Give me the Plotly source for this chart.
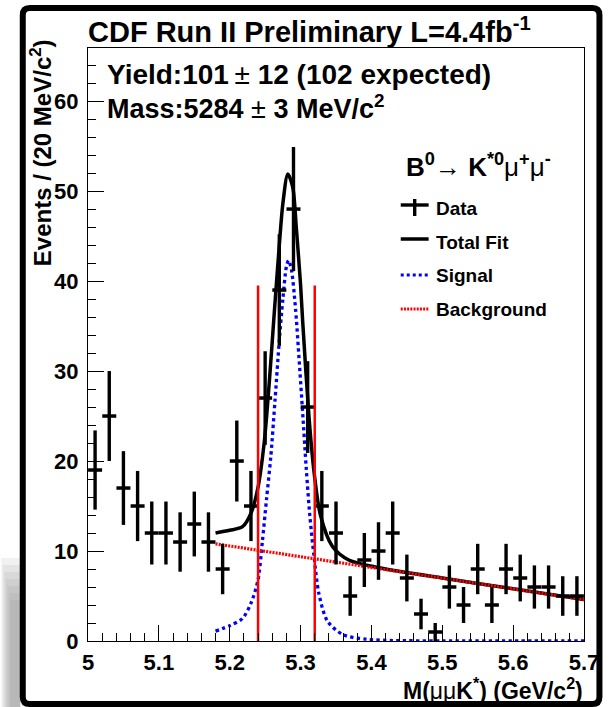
import plotly.graph_objects as go

# ---- measured spectrum: 20 MeV/c^2 bins ----
bin_centers = [5.01, 5.03, 5.05, 5.07, 5.09, 5.11, 5.13, 5.15, 5.17, 5.19,
               5.21, 5.23, 5.25, 5.27, 5.29, 5.31, 5.33, 5.35, 5.37, 5.39,
               5.41, 5.43, 5.45, 5.47, 5.49, 5.51, 5.53, 5.55, 5.57, 5.59,
               5.61, 5.63, 5.65, 5.67, 5.69]
counts = [19, 25, 17, 15, 12, 12, 11, 13, 11, 8,
          20, 15, 27, 39, 48, 26, 15, 12, 5, 9,
          10, 12, 7, 3, 1, 6, 4, 8, 4, 8,
          7, 6, 6, 5, 5]
count_err = [4.4, 5.0, 4.1, 3.9, 3.5, 3.5, 3.3, 3.6, 3.3, 2.8,
             4.5, 3.9, 5.2, 6.2, 6.9, 5.1, 3.9, 3.5, 2.2, 3.0,
             3.2, 3.5, 2.6, 1.7, 1.0, 2.4, 2.0, 2.8, 2.0, 2.8,
             2.6, 2.4, 2.4, 2.2, 2.2]

# ---- fit components ----
signal_mass = [5.180, 5.200, 5.218, 5.230, 5.240, 5.246, 5.252, 5.258, 5.264,
               5.270, 5.275, 5.280, 5.283, 5.287, 5.293, 5.298, 5.303, 5.308,
               5.313, 5.319, 5.326, 5.338, 5.360, 5.392, 5.430, 5.500, 5.600,
               5.700]
signal_curve = [1.1, 1.7, 2.5, 4.2, 6.8, 11.0, 15.8, 20.5, 26.8,
                33.4, 38.0, 41.6, 42.3, 41.3, 36.8, 31.2, 25.3, 19.2,
                14.0, 9.4, 5.2, 2.2, 0.7, 0.2, 0.05, 0.02, 0.01,
                0.0]

total_mass = [5.180, 5.200, 5.218, 5.230, 5.240, 5.249, 5.256, 5.263, 5.270,
              5.275, 5.282, 5.289, 5.294, 5.300, 5.303, 5.312, 5.319, 5.328,
              5.345, 5.368, 5.401, 5.434, 5.500, 5.600, 5.700]
total_curve = [12.0, 12.3, 12.7, 14.2, 17.1, 22.3, 28.9, 36.6, 44.0,
               48.6, 51.9, 50.4, 45.9, 39.6, 35.5, 24.8, 18.8, 14.0,
               10.5, 9.0, 8.3, 7.8, 7.0, 5.8, 4.6]

bkg_mass = [5.18, 5.70]
bkg_curve = [10.8, 4.6]

# signal window boundaries
window_edges = [5.24, 5.32]
window_top = 39.5

# ---- page geometry (pixels) ----
W, H = 611, 707
L, R, T, B = 88, 586, 48, 641


def px(x):
    return (x - L) / (R - L)


def py(y):
    return (B - y) / (B - T)


FONT = "Liberation Sans"

fig = go.Figure()

fig.add_trace(go.Scatter(
    x=total_mass, y=total_curve, mode="lines",
    line=dict(color="black", width=3.5, shape="spline", smoothing=0.8),
    hoverinfo="skip", showlegend=False))

fig.add_trace(go.Scatter(
    x=signal_mass, y=signal_curve, mode="lines",
    line=dict(color="#0000ff", width=3.3, dash="dot", shape="spline", smoothing=0.8),
    hoverinfo="skip", showlegend=False))

fig.add_trace(go.Scatter(
    x=bkg_mass, y=bkg_curve, mode="lines",
    line=dict(color="#ff0000", width=3.2, dash="2px,1.2px"),
    hoverinfo="skip", showlegend=False))

fig.add_trace(go.Scatter(
    x=bin_centers, y=counts, mode="markers",
    marker=dict(symbol="line-ew", size=10, color="black",
                line=dict(color="black", width=3.5)),
    error_y=dict(type="data", array=count_err, visible=True,
                 color="black", thickness=3.4, width=0),
    showlegend=False))

win_x, win_y = [], []
for e in window_edges:
    win_x += [e, e, None]
    win_y += [0, window_top, None]
fig.add_trace(go.Scatter(
    x=win_x, y=win_y, mode="lines",
    line=dict(color="#ff0000", width=2.5),
    hoverinfo="skip", showlegend=False))

shapes = []

# drop shadow along the lower left of the canvas frame
for k in range(7):
    shapes.append(dict(type="rect", xref="paper", yref="paper",
                       x0=px(1 + k * 1.5), x1=px(20), y0=py(707), y1=py(558 + k * 7),
                       fillcolor="#8c8c8c", opacity=0.12, line=dict(width=0),
                       layer="below"))

# canvas frame with rounded corners
x0, x1, y0, y1 = px(22.5), px(601.5), py(8), py(704)
rx, ry = 7 / (R - L), 7 / (B - T)
frame_path = (f"M{x0 + rx},{y0} L{x1 - rx},{y0} Q{x1},{y0} {x1},{y0 - ry} "
              f"L{x1},{y1 + ry} Q{x1},{y1} {x1 - rx},{y1} "
              f"L{x0 + rx},{y1} Q{x0},{y1} {x0},{y1 + ry} "
              f"L{x0},{y0 - ry} Q{x0},{y0} {x0 + rx},{y0} Z")
shapes.append(dict(type="path", xref="paper", yref="paper", path=frame_path,
                   line=dict(color="black", width=6)))

# legend symbols
shapes.append(dict(type="line", xref="paper", yref="paper",
                   x0=px(402), x1=px(430), y0=py(205), y1=py(205),
                   line=dict(color="black", width=3.4)))
shapes.append(dict(type="line", xref="paper", yref="paper",
                   x0=px(416), x1=px(416), y0=py(199), y1=py(216),
                   line=dict(color="black", width=3.4)))
shapes.append(dict(type="line", xref="paper", yref="paper",
                   x0=px(402), x1=px(430), y0=py(239), y1=py(239),
                   line=dict(color="black", width=3.5)))
shapes.append(dict(type="line", xref="paper", yref="paper",
                   x0=px(402), x1=px(430), y0=py(275), y1=py(275),
                   line=dict(color="#0000ff", width=3, dash="dot")))
shapes.append(dict(type="line", xref="paper", yref="paper",
                   x0=px(402), x1=px(430), y0=py(309), y1=py(309),
                   line=dict(color="#ff0000", width=3, dash="2px,1.2px")))


def label(text, x, y, size, xanchor="left", yanchor="middle", angle=0):
    return dict(text=text, xref="paper", yref="paper", x=px(x), y=py(y),
                xanchor=xanchor, yanchor=yanchor, showarrow=False,
                textangle=angle, font=dict(family=FONT, size=size, color="black"))


annotations = [
    label("<b>CDF Run II Preliminary L=4.4fb<sup>-1</sup></b>", 86, 30, 29),
    label("<b>Yield:101</b>\u2009± <b>12 (102 expected)</b>", 105, 75, 28),
    label("<b>Mass:5284</b> ± <b>3 MeV/c<sup>2</sup></b>", 105, 107, 27),
    label("<b>B<sup>0</sup>→ K<sup>*0</sup></b>μ<sup><b>+</b></sup>μ<sup><b>-</b></sup>",
          405, 166, 26),
    label("<b>Data</b>", 435, 208, 19),
    label("<b>Total Fit</b>", 435, 242, 19),
    label("<b>Signal</b>", 435, 275, 19),
    label("<b>Background</b>", 435, 309, 19),
    label("<b>Events / (20 MeV/c<sup>2</sup>)</b>", 41, 153, 24,
          xanchor="center", angle=-90),
    label("<b>M(</b>μμ<b>K<sup>*</sup>) (GeV/c<sup>2</sup>)</b>", 587, 689, 23,
          xanchor="right"),
]

axis_common = dict(
    showgrid=False, zeroline=False,
    showline=True, linecolor="black", linewidth=1, mirror=True,
    ticks="inside", ticklen=16, tickwidth=1, tickcolor="black",
    tickfont=dict(family=FONT, size=22, color="black", weight="bold"),
)

fig.update_layout(
    width=W, height=H,
    margin=dict(l=L, r=W - R, t=T, b=H - B),
    paper_bgcolor="white", plot_bgcolor="white",
    showlegend=False,
    shapes=shapes, annotations=annotations,
    xaxis=dict(range=[5.0, 5.7], tick0=5.0, dtick=0.1,
               minor=dict(dtick=0.02, ticks="inside", ticklen=8,
                          tickwidth=1, tickcolor="black"),
               ticklabelstandoff=2, **axis_common),
    yaxis=dict(range=[0, 65.9], tick0=0, dtick=10,
               minor=dict(dtick=2, ticks="inside", ticklen=8,
                          tickwidth=1, tickcolor="black"),
               ticklabelstandoff=4, **axis_common),
)

fig.write_html("out.html")
